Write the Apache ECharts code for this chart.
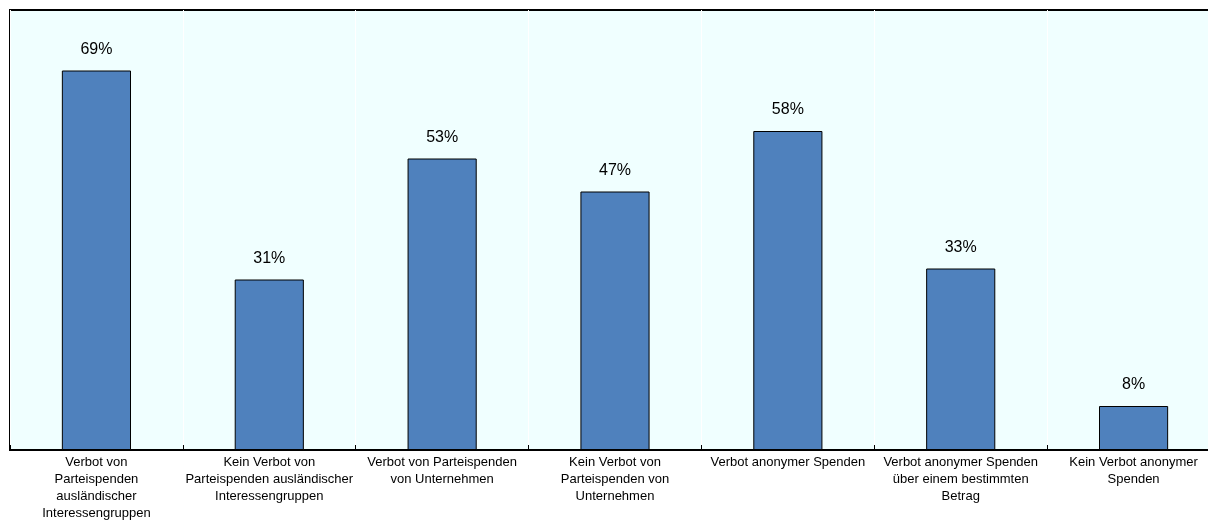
<!DOCTYPE html>
<html><head><meta charset="utf-8">
<script src="https://cdn.jsdelivr.net/npm/echarts@6/dist/echarts.min.js"></script>
<style>html,body{margin:0;padding:0;background:#fff;overflow:hidden}#c{width:1222px;height:523px}</style>
</head><body><div id="c"></div>
<script>
const categories = [
  "Verbot von\nParteispenden\nausländischer\nInteressengruppen",
  "Kein Verbot von\nParteispenden ausländischer\nInteressengruppen",
  "Verbot von Parteispenden\nvon Unternehmen",
  "Kein Verbot von\nParteispenden von\nUnternehmen",
  "Verbot anonymer Spenden",
  "Verbot anonymer Spenden\nüber einem bestimmten\nBetrag",
  "Kein Verbot anonymer\nSpenden"
];
const values = [69, 31, 53, 47, 58, 33, 8];

const chart = echarts.init(document.getElementById('c'), null, {renderer: 'canvas'});
chart.setOption({
  animation: false,
  backgroundColor: '#ffffff',
  grid: {
    left: 10, top: 10, right: 2, bottom: 73,
    show: true, backgroundColor: '#f0ffff', borderColor: '#000', borderWidth: 2,
    containLabel: false, outerBoundsMode: 'none'
  },
  xAxis: {
    type: 'category',
    data: categories,
    axisLine: {show: true, lineStyle: {color: '#000', width: 2}},
    axisTick: {show: true, inside: true, length: 5, lineStyle: {color: '#000', width: 1}},
    splitLine: {show: true, lineStyle: {color: '#ffffff', width: 1}},
    axisLabel: {
      interval: 0, color: '#000', fontFamily: 'Liberation Sans, Arial, sans-serif',
      fontSize: 13, lineHeight: 17, margin: 4
    }
  },
  yAxis: {
    type: 'value', min: 0, max: 80,
    show: false,
    splitLine: {show: false}
  },
  series: [{
    type: 'bar',
    data: values,
    barWidth: '40%',
    itemStyle: {color: '#4f81bd', borderColor: '#000', borderWidth: 1},
    label: {
      show: true, position: 'top', distance: 13,
      formatter: p => p.value + '%',
      color: '#000', fontFamily: 'Liberation Sans, Arial, sans-serif', fontSize: 16
    }
  }]
});
</script></body></html>
